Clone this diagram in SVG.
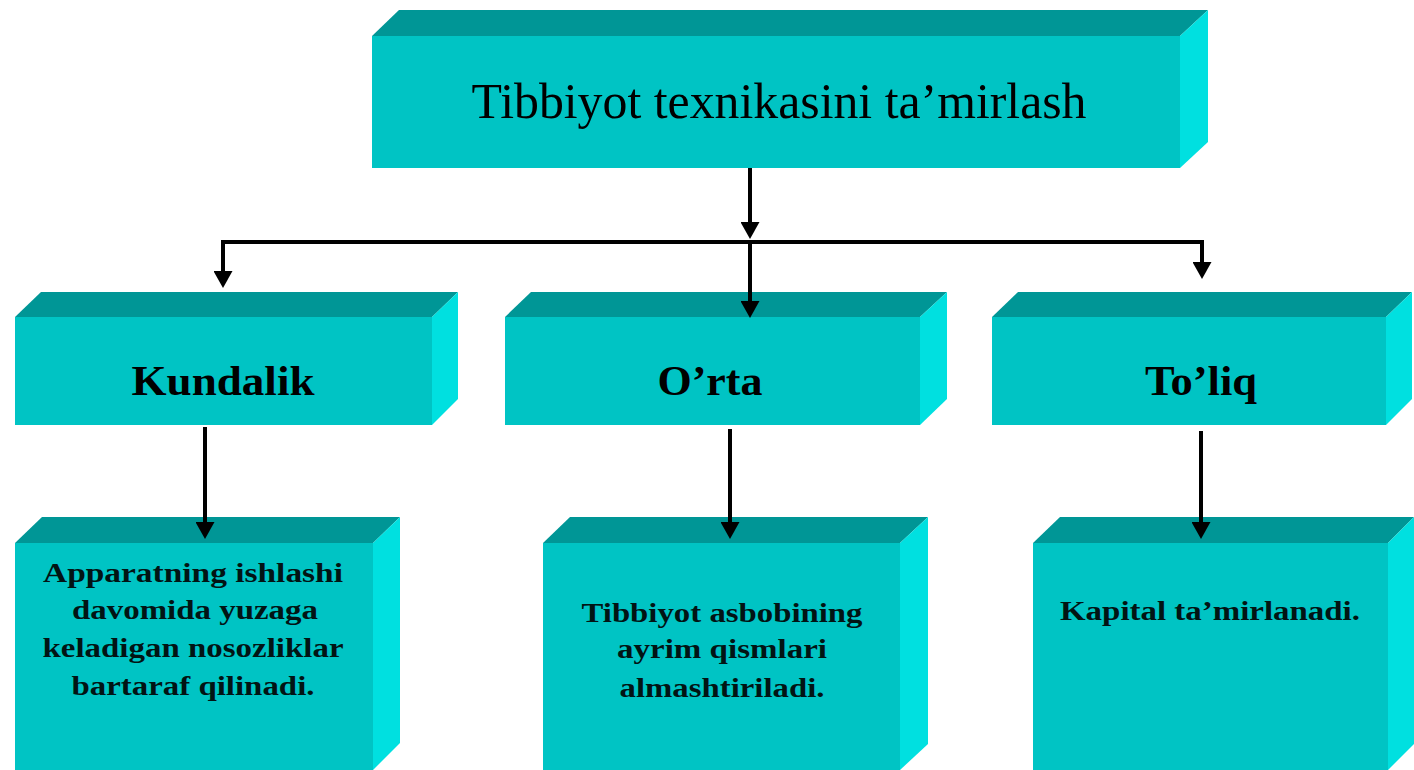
<svg xmlns="http://www.w3.org/2000/svg" width="1414" height="770" viewBox="0 0 1414 770">
<style>
.front{fill:#00c4c4}
.top{fill:#009696}
.side{fill:#00e0e0}
.t{font-family:"Liberation Serif","Times New Roman",serif;fill:#000;text-anchor:middle}
.title{font-size:50px}
.h2{font-size:42px;font-weight:bold}
.body{font-size:28px;font-weight:bold;fill:#021414}
.conn{stroke:#000;stroke-width:4;fill:none}
</style>
<defs>
<marker id="ah" markerUnits="userSpaceOnUse" markerWidth="17" markerHeight="19" viewBox="0 0 17 19" refX="13" refY="9.5" orient="auto">
<path d="M0,0 L17,9.5 L0,19 Z" fill="#000"/>
</marker>
</defs>
<rect width="1414" height="770" fill="#fff"/>

<g id="node-root">
<polygon class="top" points="372,36 399,10 1208,10 1180,36"/>
<polygon class="side" points="1180,36 1208,10 1208,142 1180,168"/>
<rect class="front" x="372" y="36" width="808" height="132"/>
<text class="t title" x="779" y="118" textLength="615" lengthAdjust="spacingAndGlyphs">Tibbiyot texnikasini ta’mirlash</text>
</g>

<g id="node-kundalik">
<polygon class="top" points="15,317 41,292 458,292 432,317"/>
<polygon class="side" points="432,317 458,292 458,399 432,425"/>
<rect class="front" x="15" y="317" width="417" height="108"/>
<text class="t h2" x="223" y="395" textLength="183" lengthAdjust="spacingAndGlyphs">Kundalik</text>
</g>

<g id="node-orta">
<polygon class="top" points="505,317 531,292 947,292 920,317"/>
<polygon class="side" points="920,317 947,292 947,399 920,425"/>
<rect class="front" x="505" y="317" width="415" height="108"/>
<text class="t h2" x="710" y="395" textLength="105" lengthAdjust="spacingAndGlyphs">O’rta</text>
</g>

<g id="node-toliq">
<polygon class="top" points="992,317 1018,292 1412,292 1386,317"/>
<polygon class="side" points="1386,317 1412,292 1412,399 1386,425"/>
<rect class="front" x="992" y="317" width="394" height="108"/>
<text class="t h2" x="1201" y="395" textLength="112" lengthAdjust="spacingAndGlyphs">To’liq</text>
</g>

<g id="node-kundalik-desc">
<polygon class="top" points="15,543 42,517 400,517 373,543"/>
<polygon class="side" points="373,543 400,517 400,743 373,770"/>
<rect class="front" x="15" y="543" width="358" height="227"/>
<text class="t body" x="193" y="582" textLength="300" lengthAdjust="spacingAndGlyphs">Apparatning ishlashi</text>
<text class="t body" x="195" y="619" textLength="246" lengthAdjust="spacingAndGlyphs">davomida yuzaga</text>
<text class="t body" x="193" y="657" textLength="301" lengthAdjust="spacingAndGlyphs">keladigan nosozliklar</text>
<text class="t body" x="193" y="695" textLength="243" lengthAdjust="spacingAndGlyphs">bartaraf qilinadi.</text>
</g>

<g id="node-orta-desc">
<polygon class="top" points="543,543 570,517 928,517 900,543"/>
<polygon class="side" points="900,543 928,517 928,744 900,770"/>
<rect class="front" x="543" y="543" width="357" height="227"/>
<text class="t body" x="722" y="622" textLength="281" lengthAdjust="spacingAndGlyphs">Tibbiyot asbobining</text>
<text class="t body" x="722" y="658" textLength="210" lengthAdjust="spacingAndGlyphs">ayrim qismlari</text>
<text class="t body" x="722" y="697" textLength="205" lengthAdjust="spacingAndGlyphs">almashtiriladi.</text>
</g>

<g id="node-toliq-desc">
<polygon class="top" points="1033,543 1060,517 1414,517 1388,543"/>
<polygon class="side" points="1388,543 1414,517 1414,744 1388,770"/>
<rect class="front" x="1033" y="543" width="355" height="227"/>
<text class="t body" x="1210" y="620" textLength="300" lengthAdjust="spacingAndGlyphs">Kapital ta’mirlanadi.</text>
</g>

<g id="connectors">
<path class="conn" d="M750,168 V235" marker-end="url(#ah)"/>
<path class="conn" d="M223,284 V242 H1202 V275"/>
<path class="conn" d="M223,242 V284" marker-end="url(#ah)"/>
<path class="conn" d="M750,242 V314" marker-end="url(#ah)"/>
<path class="conn" d="M1202,242 V275" marker-end="url(#ah)"/>
<path class="conn" d="M205,427 V535" marker-end="url(#ah)"/>
<path class="conn" d="M730,429 V535" marker-end="url(#ah)"/>
<path class="conn" d="M1201,431 V535" marker-end="url(#ah)"/>
</g>
</svg>
